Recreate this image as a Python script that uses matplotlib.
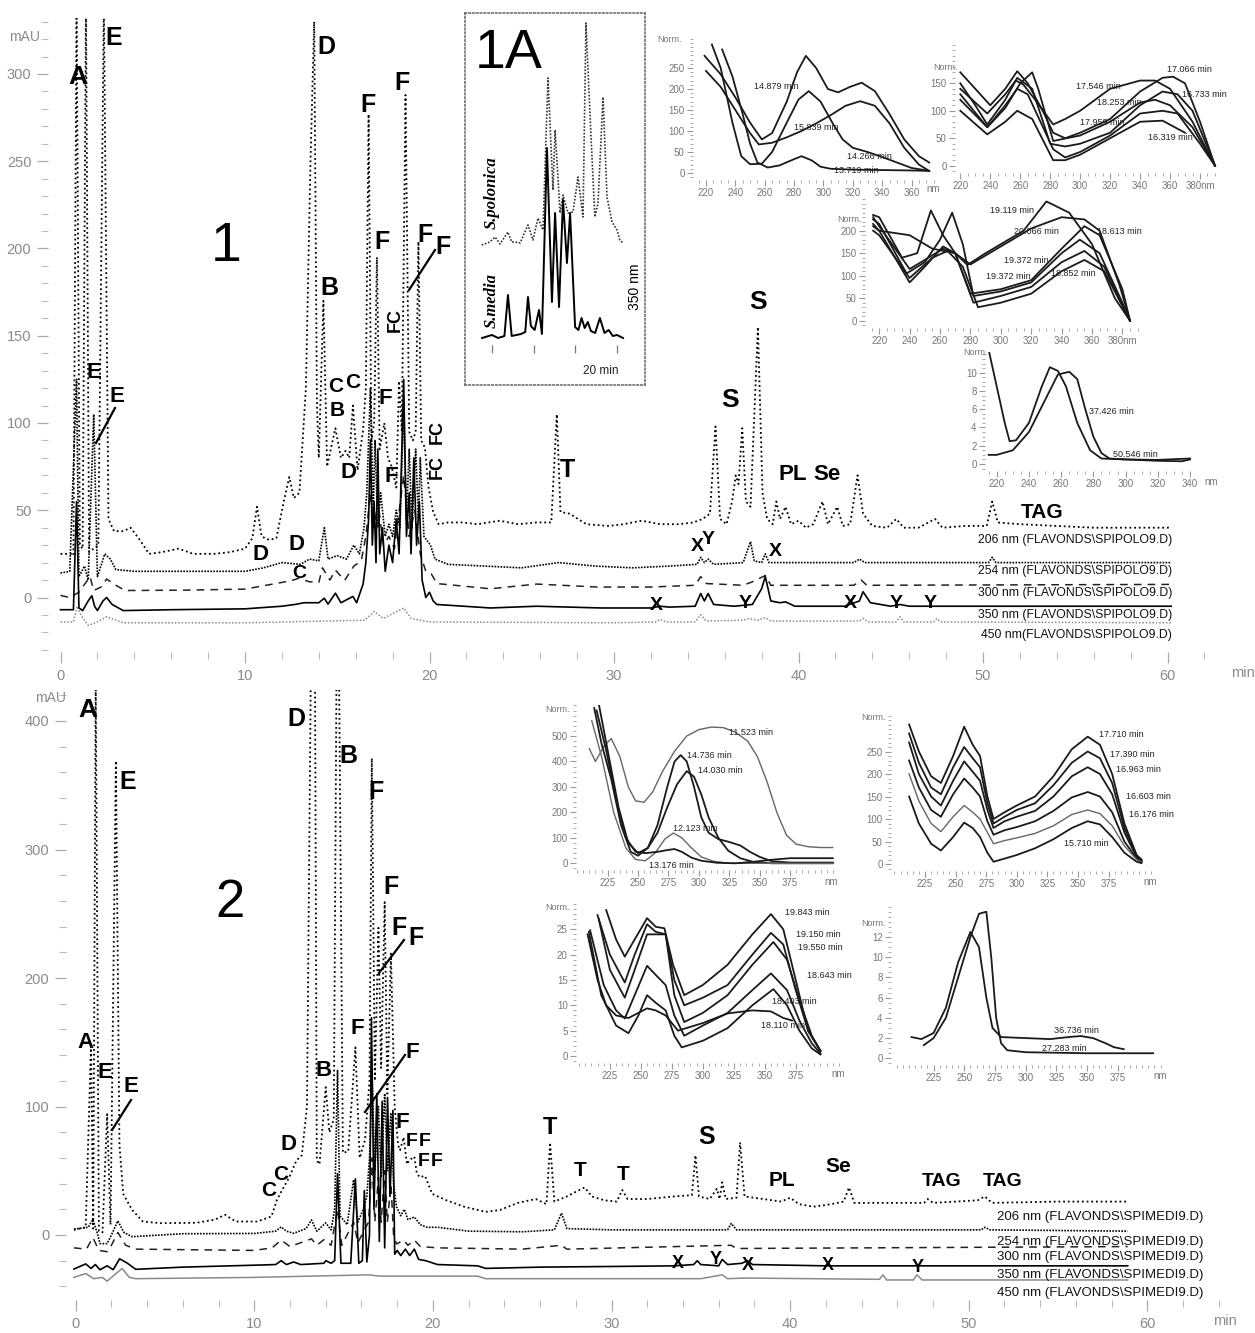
import matplotlib
matplotlib.use('Agg')
import matplotlib.pyplot as plt
from matplotlib.ticker import MultipleLocator
from matplotlib.lines import Line2D
import logging
logging.getLogger('matplotlib.font_manager').setLevel(logging.ERROR)

W, H = 1255, 1333
NARROW = ['Liberation Sans Narrow', 'Liberation Sans', 'DejaVu Sans']
SANS = ['Liberation Sans', 'DejaVu Sans']
SERIF = ['Liberation Serif', 'DejaVu Serif']

# ---------------- chromatogram 1 (S. polonica) : (time min, mAU) ----------------
P1_206 = [(0.0,25),(0.55,25),(0.7,24),(0.87,340),(1.05,30),(1.2,28),(1.38,340),(1.55,26),(1.8,28),(2.05,30),
          (2.35,340),(2.6,45),(2.9,38),(3.4,38),(3.8,40),(4.3,33),(4.8,25),(5.5,26),(6.4,28),(7.2,25),(8.3,25),
          (9.2,26),(10.0,28),(10.4,34),(10.65,52),(10.9,35),(11.3,33),(11.7,34),(12.1,55),(12.4,69),(12.65,57),
          (12.95,60),(13.3,120),(13.55,250),(13.75,330),(13.9,110),(14.0,80),(14.25,170),(14.45,75),(14.65,85),
          (14.9,97),(15.2,80),(15.45,84),(15.65,80),(15.85,110),(16.1,73),(16.4,96),(16.55,120),(16.7,277),
          (16.85,90),(17.0,100),(17.15,195),(17.3,85),(17.55,100),(17.75,80),(17.95,75),(18.2,63),(18.35,124),
          (18.5,95),(18.7,288),(18.9,95),(19.1,90),(19.25,95),(19.4,204),(19.55,90),(19.75,86),(19.95,63),
          (20.2,49),(20.5,42),(21.0,43),(21.8,43),(22.6,42),(23.8,44),(24.8,42),(25.8,43),(26.6,43),(26.9,105),
          (27.1,49),(27.6,48),(28.5,42),(29.7,41),(30.5,42),(31.5,44),(32.5,42),(33.5,42),(34.3,43),(34.8,45),
          (35.2,48),(35.5,98),(35.75,45),(36.1,42),(36.4,55),(36.6,70),(36.75,65),(36.95,97),(37.15,55),
          (37.4,52),(37.8,155),(38.05,60),(38.3,45),(38.6,42),(38.8,55),(39.0,45),(39.3,52),(39.6,42),(40.0,44),
          (40.4,40),(40.8,42),(41.3,55),(41.6,42),(42.1,52),(42.4,41),(42.8,42),(43.2,70),(43.5,48),(44.0,41),
          (44.8,40),(45.3,45),(45.7,40),(46.5,40),(47.4,45),(47.8,40),(49.0,41),(50.2,41),(50.5,55),(50.8,43),
          (52.0,42),(54.0,41),(56.0,40),(58.0,40),(60.2,40)]
P1_254 = [(0,14),(0.5,15),(0.87,125),(1.0,12),(1.3,18),(1.5,10),(1.8,105),(2.0,12),(2.4,25),(2.7,22),(3.0,16),
          (4,15),(8,15),(10,15),(11,17),(12,20),(13,19),(13.5,22),(14.0,21),(14.3,40),(14.5,22),(15,24),
          (15.5,22),(15.9,30),(16.2,25),(16.45,40),(16.6,60),(16.8,120),(16.95,50),(17.05,90),(17.2,40),
          (17.35,60),(17.6,35),(17.8,42),(18.0,35),(18.2,50),(18.4,40),(18.6,110),(18.75,45),(18.9,85),
          (19.05,40),(19.25,85),(19.4,45),(19.5,80),(19.7,35),(20.05,30),(20.3,22),(21,19),(23,18),(25,17),
          (27,20),(29,18),(31,17),(33,18),(34.5,19),(34.7,23),(34.9,20),(35.1,22),(35.4,19),(37.0,20),
          (37.4,32),(37.6,21),(38.0,20),(38.2,25),(38.4,20),(40,20),(43,20),(43.3,22),(43.6,20),(45,20),
          (50.3,20),(50.5,23),(50.7,20),(60.2,20)]
P1_300 = [(0,1.2),(0.5,0),(1.0,3),(1.6,12),(1.8,4),(2.2,6),(2.5,10.6),(3.0,7),(3.5,4),(6.6,4.2),(10,4.8),
          (12.5,9.6),(12.9,11),(13.5,9),(14.0,8.6),(14.2,17),(14.6,10),(14.9,15.7),(15.4,9.8),(15.9,18),
          (16.3,21),(16.55,35),(16.8,60),(17.0,40),(17.2,55),(17.5,30),(17.8,35),(18.1,28),(18.6,70),(18.9,35),
          (19.2,50),(19.5,25),(19.8,15),(20.1,13.5),(20.4,8),(23.3,5),(25.8,7.7),(29.1,6),(32,6),(34.4,7),
          (34.7,12),(35.0,8),(37.0,7),(37.5,9),(38.2,12.6),(38.5,7),(43.0,7),(43.4,10),(43.7,7),(60.2,7.5)]
P1_350 = [(0,-7),(0.7,-7),(0.87,55),(1.0,-6),(1.2,-7.5),(1.5,-2),(1.7,1),(1.85,-5),(2.0,-7.5),(2.3,-2),(2.5,0),
          (2.8,-4),(3.4,-7.5),(6,-7),(10,-6.5),(12.0,-5),(12.7,-4),(13.2,-3),(14.0,-3),(14.3,-0.4),(14.5,-3.8),
          (14.9,2.5),(15.2,-3),(15.85,0.6),(16.05,-3),(16.4,7.7),(16.55,20),(16.7,45),(16.8,90),(16.9,30),
          (17.0,55),(17.1,20),(17.2,85),(17.3,25),(17.45,40),(17.6,15),(17.8,30),(18.0,20),(18.2,45),(18.35,25),
          (18.6,125),(18.75,35),(18.9,60),(19.0,25),(19.15,80),(19.3,30),(19.45,55),(19.6,10),(19.8,0),(20.0,3),
          (20.2,-2),(20.4,-4),(23.3,-6),(25.8,-5),(29.3,-6),(32.0,-6),(32.5,-5),(33,-5.5),(34.4,-5),(34.7,2.3),
          (34.9,-2),(35.1,2.3),(35.4,-4),(36.5,-5),(37.5,-4),(38.0,5),(38.2,12),(38.5,-2),(39.0,-3),(39.3,-2.5),
          (39.8,-5),(42.5,-5),(43.3,-2),(43.5,3.3),(43.9,-3),(45,-5),(45.5,-4),(46,-5),(60.2,-5)]
P1_450 = [(0,-14),(0.7,-14),(0.9,-5),(1.1,-10),(1.5,-16),(2.0,-14),(2.5,-11),(3.4,-14.5),(10,-14.5),(16.5,-13),
          (17,-8),(17.5,-12),(18.6,-6),(19,-12),(20,-14),(30,-14.5),(32.3,-14),(32.5,-12.5),(32.8,-14),
          (34.4,-14),(34.7,-9.8),(35.0,-13.5),(37.0,-13),(37.3,-12),(37.8,-13),(38.2,-11.5),(38.5,-13.5),
          (43.3,-13.5),(43.5,-12),(43.8,-14),(45.3,-14),(45.5,-11),(45.7,-14),(47.3,-14),(47.5,-12),
          (47.7,-14),(60.2,-14.5)]
P1_NAMES = ['206 nm (FLAVONDS\\SPIPOLO9.D)', '254 nm (FLAVONDS\\SPIPOLO9.D)', '300 nm (FLAVONDS\\SPIPOLO9.D)',
            '350 nm (FLAVONDS\\SPIPOLO9.D)', '450 nm(FLAVONDS\\SPIPOLO9.D)']

# ---------------- chromatogram 2 (S. media) ----------------
P2_206 = [(-0.1,4),(0.56,6),(0.86,149),(0.98,5),(1.12,430),(1.3,3),(1.5,2),(1.76,94),(1.95,8),(2.25,369),
          (2.45,70),(2.66,32),(3.16,19.5),(3.76,10.5),(4.76,9.2),(6.76,9.5),(7.8,12),(8.36,15.7),(8.96,10.5),
          (10.16,10.5),(10.96,14.4),(11.26,27),(11.56,35),(11.96,45),(12.36,58),(12.66,62),(12.95,100),
          (13.16,430),(13.4,430),(13.5,58),(13.65,55),(14.0,115),(14.2,80),(14.45,90),(14.6,430),(14.75,430),
          (14.96,64),(15.26,65),(15.66,146),(15.9,60),(16.2,74),(16.45,120),(16.58,371),(16.75,120),
          (16.95,239),(17.1,130),(17.3,259),(17.45,110),(17.65,219),(17.86,100),(18.05,70),(18.16,66),
          (18.36,76),(18.55,55),(18.66,58),(18.96,61),(19.1,48),(19.26,45),(19.56,46),(19.96,32),(20.76,27),
          (21.76,22),(22.96,18),(23.76,19.5),(24.76,25),(25.76,28),(26.36,24),(26.56,72),(26.8,26),(27.5,30),
          (28.2,35),(28.5,37),(28.9,30),(29.6,27),(30.3,26),(30.6,35),(30.9,28),(32,28),(33.5,30),(34.5,31),
          (34.7,62),(34.9,30),(35.5,28),(35.9,36),(36.05,28),(36.2,41),(36.4,28),(37.0,29),(37.2,72),
          (37.45,30),(38.5,28),(39.5,26),(40.0,29),(40.5,24),(41.3,22),(42.3,24),(43.0,26),(43.3,37),
          (43.6,25),(45,25),(47.5,25),(47.7,28),(48,25),(50.5,27),(50.9,30),(51.3,25),(55,26),(58.9,26)]
P2_254 = [(-0.1,4.6),(0.7,6),(0.96,12),(1.2,2),(1.36,-6.7),(1.76,-6.7),(2.0,0),(2.36,11),(2.7,2),(3.16,-1.3),
          (6,1),(10,1.2),(11.2,3),(11.5,6.3),(11.8,3),(12.2,1.3),(12.9,5),(13.2,11.7),(13.5,3),(14.0,9.4),
          (14.3,4),(14.5,20),(14.66,128),(14.8,15),(15.2,8),(15.56,43),(15.8,10),(16.1,20),(16.3,30),
          (16.45,60),(16.6,120),(16.75,50),(16.95,100),(17.1,45),(17.3,110),(17.45,50),(17.65,95),(17.8,40),
          (17.96,22),(18.2,15),(18.4,20),(18.6,12),(18.96,14),(19.3,8),(19.66,6),(20.26,6),(22,3),(25,2.5),
          (26.8,4),(27.2,17),(27.5,5),(30,4),(35,4),(36.5,4),(36.7,9),(37.0,4),(45,4),(50.7,4),(50.9,6),
          (51.2,4),(58.9,3)]
P2_300 = [(-0.1,-10),(0.6,-11),(0.96,-2),(1.3,-12),(1.76,-13),(2.0,-8),(2.36,2),(2.8,-8),(3.36,-11),(10,-12),
          (11.0,-10),(11.5,-4),(12.0,-9),(12.2,-8),(13.2,-3),(13.5,-8),(13.9,-3.6),(14.3,-8),(14.66,20),
          (14.9,-8),(15.56,10),(15.8,-6),(16.2,5),(16.4,10),(16.6,60),(16.75,10),(16.95,45),(17.1,10),
          (17.3,50),(17.45,10),(17.65,40),(17.8,0),(17.96,-7),(18.36,-4),(18.6,-8),(18.96,-4),(19.3,-9),
          (20.26,-10),(25,-11),(27.2,-8),(27.5,-11),(36.7,-8),(37,-10.5),(58.9,-9)]
P2_350 = [(-0.1,-26.5),(0.56,-22.5),(0.86,-26),(1.1,-23),(1.36,-27),(1.76,-24),(2.1,-27),(2.46,-18.5),
          (2.9,-22),(3.36,-26.7),(6,-25),(10,-23.5),(11.2,-23),(11.5,-20),(11.8,-23),(12.2,-21),(12.6,-23),
          (13.9,-22),(14.0,-20),(14.3,-22),(14.5,-20),(14.66,47.7),(14.85,-22),(15.4,-22),(15.66,43.8),
          (15.85,-22),(16.05,-20),(16.16,34.6),(16.3,-21),(16.45,0),(16.56,169),(16.7,20),(16.86,110),
          (17.0,-5),(17.16,104),(17.3,-10),(17.46,107),(17.6,30),(17.76,97),(17.86,-15),(18.0,-12),
          (18.2,-16),(18.46,-11),(18.7,-16),(18.96,-11),(19.2,-19),(19.6,-20),(20.26,-23),(22.5,-24),
          (22.96,-26),(26,-25),(30,-24.5),(33.5,-24),(34.6,-23),(34.8,-20),(35.0,-23),(36.0,-24),(36.2,-19),
          (36.5,-23),(37.3,-22),(37.6,-20),(37.9,-23),(42,-24),(58.9,-24)]
P2_450 = [(-0.1,-33),(0.56,-30),(1.0,-34),(1.5,-33),(1.76,-36),(2.0,-33),(2.6,-26),(3.0,-33),(3.36,-34),
          (10,-33),(16.4,-31),(17,-32),(22.5,-32),(22.96,-34),(30,-34),(33.5,-34),(35,-34),(36.2,-31),
          (36.5,-34),(37.5,-33.5),(45.0,-34.5),(45.2,-31),(45.4,-35),(46.9,-35),(47.1,-31),(47.4,-35),
          (58.9,-35)]
P2_NAMES = ['206 nm (FLAVONDS\\SPIMEDI9.D)', '254 nm (FLAVONDS\\SPIMEDI9.D)', '300 nm (FLAVONDS\\SPIMEDI9.D)',
            '350 nm (FLAVONDS\\SPIMEDI9.D)', '450 nm (FLAVONDS\\SPIMEDI9.D)']

# ---------------- inset 1A (350 nm, 12-21 min) ----------------
IN_MEDIA = [(13.53,0),(14.0,3),(14.3,0),(14.6,2),(14.77,43),(14.95,2),(15.4,4),(15.6,6),(15.73,41),(15.87,12),
            (16.05,8),(16.26,28),(16.4,4),(16.64,190),(16.88,36),(17.03,125),(17.22,31),(17.41,138),(17.6,75),
            (17.75,125),(17.99,11),(18.15,8),(18.3,20),(18.45,10),(18.6,16),(18.75,7),(18.95,5),(19.18,20),
            (19.4,5),(19.6,8),(19.8,2),(20.0,3),(20.29,0)]
IN_POLONICA = [(13.51,93),(13.9,96),(14.15,101),(14.39,94),(14.77,106),(14.95,96),(15.11,96),(15.35,95),
               (15.73,113),(15.97,98),(16.21,120),(16.45,108),(16.69,260),(16.93,148),(17.03,208),(17.27,125),
               (17.41,143),(17.65,125),(17.89,126),(18.13,161),(18.37,121),(18.51,315),(18.75,203),(18.94,121),
               (19.09,135),(19.33,241),(19.52,141),(19.76,116),(20.0,108),(20.14,98),(20.29,95)]
IN_TICKS = [14, 16, 18, 20]

# ---------------- UV spectra (nm, Norm.) ----------------
SA_14879 = [(219,279),(230,235),(240,180),(250,120),(258,80),(265,95),(275,170),(282,240),(288,279),(295,250),
            (303,200),(310,192),(318,205),(326,215),(335,195),(345,140),(355,80),(365,40),(372,25)]
SA_15839 = [(220,243),(230,205),(240,150),(250,95),(256,68),(265,72),(275,85),(285,100),(295,118),(305,138),
            (315,160),(325,171),(335,160),(345,118),(355,60),(365,20),(372,5)]
SA_14266 = [(224,306),(230,250),(238,120),(244,40),(250,21),(258,22),(265,50),(275,120),(283,175),(290,195),
            (298,170),(306,120),(313,80),(320,60),(330,50),(340,38),(350,25),(360,12),(372,5)]
SA_13719 = [(231,294),(238,230),(245,140),(250,70),(255,25),(262,13),(270,18),(278,30),(285,40),(292,30),
            (298,15),(305,10),(320,8),(340,7),(360,6),(372,5)]
SA_LABELS = [('14.879 min',253,207),('15.839 min',280,108),('14.266 min',316,40),('13.719 min',307,5)]

SB_17066 = [(220,170),(230,140),(240,110),(250,140),(258,172),(265,150),(275,100),(282,60),(290,50),(300,60),
            (320,85),(340,135),(355,160),(362,162),(370,150),(380,80),(390,0)]
SB_16733 = [(220,150),(230,110),(238,75),(250,120),(258,160),(268,140),(280,40),(290,35),(300,40),(320,60),
            (340,110),(355,135),(365,130),(375,100),(390,0)]
SB_17546 = [(220,140),(238,95),(250,130),(257,155),(262,148),(270,120),(282,75),(290,85),(300,100),(320,140),
            (340,155),(350,155),(360,140),(375,80),(390,0)]
SB_18253 = [(220,130),(238,70),(250,105),(260,150),(268,170),(272,140),(282,45),(300,55),(320,80),(340,115),
            (350,120),(360,110),(375,70),(390,0)]
SB_17959 = [(220,120),(238,70),(250,110),(258,140),(265,130),(282,30),(290,15),(300,25),(320,55),(340,95),
            (355,100),(365,95),(380,40),(390,0)]
SB_16319 = [(220,100),(238,57),(250,80),(258,100),(268,85),(282,10),(290,10),(300,20),(320,50),(340,80),
            (355,82),(370,60)]
SB_LABELS = [('17.066 min',358,175),('16.733 min',368,130),('17.546 min',297,145),('18.253 min',311,115),
             ('17.959 min',300,79),('16.319 min',345,52)]

SC_19119 = [(216,230),(220,210),(240,115),(250,135),(262,160),(270,150),(278,124),(290,150),(300,170),
            (315,200),(330,265),(345,240),(360,170),(375,50),(385,0)]
SC_20066 = [(216,215),(220,200),(240,190),(255,160),(270,150),(280,125),(300,165),(320,205),(340,230),
            (355,225),(365,200),(378,80),(385,0)]
SC_18613 = [(216,235),(220,230),(235,140),(245,150),(254,245),(262,190),(270,150),(280,60),(300,70),(320,90),
            (340,160),(355,210),(365,190),(380,70),(385,0)]
SC_19372a = [(216,225),(220,215),(238,105),(250,130),(260,180),(268,240),(275,170),(282,55),(300,65),(320,85),
             (340,150),(352,180),(365,150),(380,40),(385,0)]
SC_19372b = [(216,210),(220,200),(240,85),(250,120),(262,165),(270,150),(282,40),(300,55),(320,75),(340,130),
             (355,155),(368,120),(385,0)]
SC_18852 = [(216,200),(220,190),(240,95),(255,140),(265,155),(275,120),(285,30),(300,40),(320,60),(340,110),
            (355,135),(368,110),(385,0)]
SC_LABELS = [('19.119 min',293,244),('20.066 min',309,198),('18.613 min',363,198),('19.372 min',302,133),
             ('19.372 min',290,98),('18.852 min',333,104)]

SD_37426 = [(215,12.5),(220,8.5),(225,4.5),(228,2.5),(232,2.6),(240,4.5),(248,8.5),(253,10.6),(258,10.2),
            (263,8.5),(270,4.5),(278,1.5),(285,0.6),(300,0.5),(320,0.45),(340,0.6)]
SD_50546 = [(215,1.0),(220,1.0),(230,1.5),(240,3.5),(250,7),(258,9.8),(265,10.1),(270,9.3),(275,6),(280,3),
            (285,1.2),(290,0.6),(300,0.5),(320,0.35),(335,0.3),(340,0.5)]
SD_LABELS = [('37.426 min',277,5.7),('50.546 min',292,1.05)]

SE_11523 = [(210,450),(215,400),(222,460),(228,490),(235,420),(242,300),(248,245),(255,240),(262,280),(270,360),
            (280,440),(290,500),(300,525),(310,535),(320,533),(330,515),(340,480),(348,420),(356,320),(364,200),
            (372,110),(380,75),(390,65),(400,62),(410,62)]
SE_14736 = [(214,610),(220,470),(228,330),(236,150),(244,45),(250,30),(258,60),(266,150),(274,300),(280,400),
            (285,425),(290,400),(296,300),(302,180),(308,120),(316,95),(324,85),(334,70),(342,45),(350,25),
            (360,8),(375,3),(410,3)]
SE_14030 = [(218,620),(226,420),(234,220),(242,80),(250,40),(258,60),(266,120),(274,220),(282,310),(290,362),
            (296,340),(302,270),(308,180),(316,100),(324,50),(334,20),(345,5),(360,0),(410,0)]
SE_12123 = [(212,560),(220,420),(230,200),(240,60),(248,15),(256,10),(264,40),(272,95),(279,119),(286,100),
            (294,60),(302,25),(312,8),(325,0),(410,0)]
SE_13176 = [(216,600),(224,440),(232,250),(240,100),(248,45),(256,40),(266,45),(274,52),(280,56),(286,45),
            (294,22),(302,10),(315,2),(330,0),(345,6),(360,14),(375,20),(410,20)]
SE_LABELS = [('11.523 min',325,514),('14.736 min',290,423),('14.030 min',299,366),('12.123 min',279,135),
             ('13.176 min',259,-7)]

SF_17710 = [(212,310),(220,250),(230,195),(238,180),(248,240),(257,305),(264,265),(270,240),(276,150),(281,100),
            (290,115),(300,130),(315,150),(330,195),(345,255),(358,283),(368,265),(378,200),(388,90),(398,20),
            (402,10)]
SF_17390 = [(212,290),(220,225),(230,170),(238,155),(248,215),(257,260),(264,235),(270,215),(276,135),(281,90),
            (290,105),(300,120),(315,135),(330,175),(345,225),(358,250),(368,235),(378,180),(388,80),(398,18),
            (402,8)]
SF_16963 = [(212,270),(220,200),(230,150),(238,130),(248,185),(257,228),(264,205),(270,185),(276,120),(281,80),
            (290,95),(300,105),(315,118),(330,150),(345,195),(358,215),(368,200),(378,155),(388,70),(398,15),
            (402,6)]
SF_16603 = [(212,230),(220,170),(230,120),(238,105),(248,155),(257,190),(264,170),(270,150),(276,95),(281,65),
            (290,75),(300,82),(315,95),(330,118),(345,148),(358,160),(368,150),(378,115),(388,50),(398,12),
            (402,5)]
SF_16176 = [(212,200),(220,140),(230,90),(238,72),(248,105),(257,130),(264,115),(270,100),(276,70),(281,45),
            (290,52),(300,58),(315,68),(330,85),(345,110),(358,120),(368,112),(378,85),(388,40),(398,10),(402,4)]
SF_15710 = [(212,150),(220,90),(230,45),(238,30),(248,60),(257,92),(264,80),(270,60),(276,25),(281,5),(290,12),
            (300,20),(315,35),(330,55),(345,80),(358,95),(368,88),(378,60),(388,25),(398,5),(402,2)]
SF_LABELS = [('17.710 min',367,288),('17.390 min',376,243),('16.963 min',381,210),('16.603 min',389,149),
             ('16.176 min',392,111),('15.710 min',339,46)]

SG_19843 = [(222,28.8),(230,23),(237,19.6),(245,23),(255,27.2),(262,25.5),(269,25.2),(276,18),(285,12),
            (300,14),(320,18),(340,24),(355,28),(365,25),(375,15),(385,5),(395,1)]
SG_19150 = [(215,27.8),(225,20),(237,14.5),(245,20),(255,26),(262,24.5),(270,24),(277,15),(285,10),(300,11.5),
            (320,14),(340,20),(355,24.3),(365,22),(375,13),(385,5),(395,1)]
SG_19550 = [(216,27),(225,17),(237,11.5),(245,17),(255,24),(262,24),(270,24),(277,12),(285,6.7),(300,8.5),
            (320,12),(340,18),(357,22.5),(368,19),(378,11),(388,4),(395,1)]
SG_18643 = [(209,24.8),(220,14),(230,9),(237,7.4),(245,12),(255,17.8),(262,16),(270,14),(277,8),(285,4),
            (300,6),(320,8.5),(340,13),(355,16.3),(368,13),(378,7),(388,2.5),(395,0.5)]
SG_18403 = [(208,24.5),(218,12),(230,6),(240,4.5),(248,8),(255,12),(262,10.5),(270,9),(277,4),(283,1.7),
            (300,3),(320,5.5),(340,10),(357,13.2),(368,10),(378,5),(388,1.5),(395,0.3)]
SG_18110 = [(207,24),(215,15),(222,10),(230,8),(240,7.5),(248,8.5),(255,9.4),(262,9),(270,8),(280,5),
            (300,6.5),(320,8.4),(340,9),(355,8.8),(365,7.5),(372,7)]
SG_LABELS = [('19.843 min',366,28.3),('19.150 min',375,23.9),('19.550 min',377,21.4),('18.643 min',384,15.9),
             ('18.403 min',356,10.7),('18.110 min',347,6.1)]

SH_36736 = [(207,2.1),(215,1.9),(225,2.5),(235,5),(245,9.5),(255,12.5),(262,11),(268,6),(273,3),(280,2.1),
            (300,2),(320,1.9),(335,2.1),(345,2.2),(355,2.0),(365,1.5),(372,1.1),(380,0.9)]
SH_27283 = [(217,1.3),(225,2),(235,4),(245,8),(255,12),(262,14.3),(268,14.5),(272,10),(276,4),(280,1.5),
            (285,0.8),(300,0.6),(350,0.5),(404,0.5)]
SH_LABELS = [('36.736 min',323,2.74),('27.283 min',313.5,1.0)]

# ---------------- figure ----------------
fig = plt.figure(figsize=(W / 100, H / 100), dpi=100)
fig.patch.set_facecolor('white')


def px_axes(l, t, r, b):
    return fig.add_axes([l / W, 1 - b / H, (r - l) / W, (b - t) / H])


def ftext(x, y, s, **kw):
    kw.setdefault('ha', 'center')
    kw.setdefault('va', 'center')
    return fig.text(x / W, 1 - y / H, s, **kw)


def fline(p1, p2):
    fig.add_artist(Line2D([p1[0] / W, p2[0] / W], [1 - p1[1] / H, 1 - p2[1] / H],
                          transform=fig.transFigure, color='black', lw=1.6))


def unzip(pairs):
    return [p[0] for p in pairs], [p[1] for p in pairs]


STYLES = [dict(color='black', lw=1.3, ls=(0, (1, 1.6))),
          dict(color='black', lw=1.2, ls=(0, (1, 0.8))),
          dict(color='#222', lw=1.1, ls=(0, (5, 4))),
          dict(color='black', lw=1.2, ls='-'),
          dict(color='#8a8a8a', lw=1.1, ls=(0, (1, 1.2)))]


def style_main(ax, xlim, ylim, ymin, yticks):
    for sp in ax.spines.values():
        sp.set_visible(False)
    ax.set_facecolor('none')
    ax.set_xlim(*xlim)
    ax.set_ylim(*ylim)
    ax.set_xticks(list(range(0, 61, 10)))
    ax.xaxis.set_minor_locator(MultipleLocator(2))
    ax.set_yticks(yticks)
    ax.yaxis.set_minor_locator(MultipleLocator(ymin))
    ax.tick_params(which='major', length=8, width=0.9, color='#aaaaaa', labelcolor='#8a8a8a',
                   labelsize=10.5, pad=4)
    ax.tick_params(which='minor', length=5, width=0.8, color='#bbbbbb')
    for lab in ax.get_xticklabels() + ax.get_yticklabels():
        lab.set_family(SANS)


# --- panel 1
ax1 = px_axes(48, 18, 1230, 652)
style_main(ax1, ((48 - 60.5) / 18.45, (1230 - 60.5) / 18.45),
           ((597.5 - 652) / 1.745, (597.5 - 18) / 1.745), 10, list(range(0, 301, 50)))
for data, st in zip([P1_450, P1_300, P1_254, P1_206, P1_350], [STYLES[4], STYLES[2], STYLES[1], STYLES[0], STYLES[3]]):
    x, y = unzip(data)
    ax1.plot(x, y, **st)

# --- panel 2
ax2 = px_axes(66, 690, 1230, 1300)
style_main(ax2, ((66 - 75.7) / 17.86, (1230 - 75.7) / 17.86),
           ((1235 - 1300) / 1.285, (1235 - 690) / 1.285), 20, list(range(0, 401, 100)))
st450b = dict(color='#8a8a8a', lw=1.1, ls='-')
for data, st in zip([P2_450, P2_300, P2_254, P2_206, P2_350], [st450b, STYLES[2], STYLES[1], STYLES[0], STYLES[3]]):
    x, y = unzip(data)
    ax2.plot(x, y, **st)

ftext(25, 37, 'mAU', color='#8a8a8a', fontsize=10, family=SANS)
ftext(51, 698, 'mAU', color='#8a8a8a', fontsize=10, family=SANS)
ftext(1243, 673, 'min', color='#8a8a8a', fontsize=10.5, family=SANS)
ftext(1225, 1321, 'min', color='#8a8a8a', fontsize=10.5, family=SANS)

for name, yy in zip(P1_NAMES, [540, 571, 593, 615, 635]):
    ftext(1172, yy, name, ha='right', fontsize=8.8, family=NARROW, color='#111')
for name, yy in zip(P2_NAMES, [1217, 1242, 1257, 1275, 1293]):
    ftext(1203, yy, name, ha='right', fontsize=9.5, family=NARROW, color='#111')

# --- peak letters
TOP_LABELS = [('A', 78, 77, 19), ('E', 114, 38, 18), ('D', 326, 47, 18), ('F', 368, 105, 18), ('F', 402, 83, 18),
              ('F', 382, 242, 18), ('F', 425, 235, 18), ('F', 443, 247, 18), ('B', 329, 288, 18),
              ('E', 94, 372, 16), ('E', 117, 397, 16), ('C', 336, 386, 15), ('C', 353, 383, 15),
              ('B', 337, 410, 15), ('D', 348, 472, 16), ('F', 385, 398, 16), ('F', 391, 477, 16),
              ('T', 567, 470, 18), ('S', 758, 302, 19), ('S', 730, 400, 19), ('PL', 793, 475, 16),
              ('Se', 827, 475, 16), ('TAG', 1042, 513, 15), ('D', 260, 555, 16), ('D', 297, 545, 16),
              ('C', 299, 573, 14), ('X', 697, 547, 14), ('Y', 708, 540, 14), ('X', 775, 552, 14),
              ('X', 656, 606, 14), ('Y', 745, 604, 14), ('X', 850, 603, 14), ('Y', 896, 604, 14),
              ('Y', 930, 604, 14)]
TOP_ROT = [('FC', 395, 320, 13), ('FC', 437, 432, 13), ('FC', 437, 467, 13)]
BOT_LABELS = [('A', 88, 710, 19), ('D', 296, 719, 18), ('B', 348, 756, 18), ('E', 128, 782, 18),
              ('F', 376, 792, 18), ('F', 391, 887, 18), ('F', 399, 928, 18), ('F', 416, 938, 18),
              ('A', 86, 1042, 16), ('E', 105, 1073, 16), ('E', 131, 1087, 16), ('B', 324, 1070, 16),
              ('D', 289, 1145, 16), ('C', 281, 1174, 15), ('C', 269, 1191, 15), ('F', 357, 1028, 16),
              ('F', 412, 1053, 16), ('F', 402, 1122, 16), ('F', 412, 1142, 14), ('F', 425, 1142, 14),
              ('F', 424, 1162, 14), ('F', 437, 1162, 14), ('T', 550, 1127, 17), ('T', 580, 1170, 15),
              ('T', 623, 1175, 15), ('S', 707, 1137, 18), ('PL', 782, 1180, 15), ('Se', 838, 1167, 15),
              ('TAG', 942, 1182, 14), ('TAG', 1003, 1182, 14), ('X', 678, 1264, 13), ('Y', 716, 1260, 13),
              ('X', 748, 1266, 13), ('X', 828, 1266, 13), ('Y', 918, 1267, 13)]
for s, x, y, fs in TOP_LABELS + BOT_LABELS:
    ftext(x, y, s, fontsize=fs, fontweight='bold', family=NARROW, color='black')
for s, x, y, fs in TOP_ROT:
    ftext(x, y, s, fontsize=fs, fontweight='bold', family=NARROW, color='black', rotation=90)
ftext(226, 247, '1', fontsize=40, family=SANS, color='black')
ftext(230, 903, '2', fontsize=38, family=SANS, color='black')

for p1, p2 in [((115, 408), (96, 443)), ((435, 250), (409, 290)), ((131, 1100), (112, 1130)),
               ((404, 940), (379, 973)), ((405, 1055), (365, 1112))]:
    fline(p1, p2)

# --- inset 1A
axi = px_axes(465, 13, 645, 385)
axi.set_xlim(20 + (465 - 617) / 20.85, 20 + (645 - 617) / 20.85)
axi.set_ylim(338 - 385, 338 - 13)
axi.set_facecolor('white')
axi.set_xticks([])
axi.set_yticks([])
for sp in axi.spines.values():
    sp.set_linestyle((0, (1, 1.5)))
    sp.set_color('#666')
    sp.set_linewidth(1.1)
x, y = unzip(IN_POLONICA)
axi.plot(x, y, color='#333', lw=1.2, ls=(0, (1, 1)))
x, y = unzip(IN_MEDIA)
axi.plot(x, y, color='black', lw=1.4)
axi.vlines(IN_TICKS, -15, -7, color='#777', lw=0.9)
axi.text(19.2, -33, '20 min', ha='center', va='center', fontsize=8.5, family=SANS, color='#222')
ftext(509, 54, '1A', fontsize=40, family=SANS, color='black')
ftext(492, 193, 'S.polonica', rotation=90, fontsize=12, fontweight='bold', fontstyle='italic', family=SERIF)
ftext(492, 301, 'S.media', rotation=90, fontsize=12, fontweight='bold', fontstyle='italic', family=SERIF)
ftext(635, 287, '350 nm', rotation=90, fontsize=10, family=SANS)


# --- spectra insets
def spec_axes(box, xanc, yanc, xticks, xlabels, xminor, yticks, yminor, curves, labels, norm_xy,
              nm_xy=None, gray=()):
    l, t, r, b = box
    (n0, p0), (n1, p1) = xanc
    sx = (p1 - p0) / (n1 - n0)
    (v0, q0), (v1, q1) = yanc
    sy = (q1 - q0) / (v1 - v0)
    ax = px_axes(l, t, r, b)
    ax.set_facecolor('none')
    ax.set_xlim(n0 + (l - p0) / sx, n0 + (r - p0) / sx)
    ax.set_ylim(v0 + (b - q0) / sy, v0 + (t - q0) / sy)
    for sp in ax.spines.values():
        sp.set_visible(False)
    ax.set_xticks(xticks)
    ax.set_xticklabels(xlabels)
    ax.xaxis.set_minor_locator(MultipleLocator(xminor))
    ax.set_yticks(yticks)
    ax.yaxis.set_minor_locator(MultipleLocator(yminor))
    ax.tick_params(which='major', length=4, width=0.8, color='#999', labelcolor='#777', labelsize=7, pad=2)
    ax.tick_params(which='minor', length=2, width=0.7, color='#aaa')
    for lab in ax.get_xticklabels() + ax.get_yticklabels():
        lab.set_family(SANS)
    for i, c in enumerate(curves):
        x, y = unzip(c)
        if i in gray:
            ax.plot(x, y, color='#666', lw=1.0)
        else:
            ax.plot(x, y, color='#1a1a1a', lw=1.3)
    for s, x, y in labels:
        ax.text(x, y, s, fontsize=6.5, family=SANS, color='#222', ha='left', va='center')
    ftext(norm_xy[0], norm_xy[1], 'Norm.', fontsize=6.5, family=SANS, color='#777')
    if nm_xy:
        ftext(nm_xy[0], nm_xy[1], 'nm', fontsize=7, family=SANS, color='#777')
    return ax


spec_axes((693, 35, 938, 180), ((220, 706), (360, 911.6)), ((0, 173), (250, 68)),
          list(range(220, 361, 20)), [str(v) for v in range(220, 361, 20)], 5,
          list(range(0, 251, 50)), 10, [SA_14879, SA_15839, SA_14266, SA_13719], SA_LABELS, (670, 39),
          (933, 189))
spec_axes((955, 40, 1220, 173), ((220, 960.3), (380, 1200)), ((0, 165.7), (150, 83.3)),
          list(range(220, 381, 20)), [str(v) for v in range(220, 361, 20)] + ['380nm'], 5,
          list(range(0, 151, 50)), 10, [SB_17066, SB_16733, SB_17546, SB_18253, SB_17959, SB_16319], SB_LABELS,
          (946, 67))
spec_axes((865, 198, 1142, 328), ((220, 879.2), (380, 1122.4)), ((0, 320.7), (200, 230.7)),
          list(range(220, 381, 20)), [str(v) for v in range(220, 361, 20)] + ['380nm'], 5,
          list(range(0, 201, 50)), 10, [SC_19119, SC_20066, SC_18613, SC_19372a, SC_19372b, SC_18852], SC_LABELS,
          (850, 220))
spec_axes((985, 352, 1197, 471), ((220, 996.7), (340, 1190)), ((0, 464), (10, 372.7)),
          list(range(220, 341, 20)), [str(v) for v in range(220, 341, 20)], 5,
          list(range(0, 11, 2)), 0.5, [SD_37426, SD_50546], SD_LABELS, (975, 353), (1211, 482))
spec_axes((576, 705, 835, 870), ((225, 607.6), (375, 790.2)), ((0, 863.3), (500, 736)),
          list(range(225, 376, 25)), [str(v) for v in range(225, 376, 25)], 5,
          list(range(0, 501, 100)), 20, [SE_11523, SE_14736, SE_14030, SE_12123, SE_13176], SE_LABELS,
          (558, 709), (831, 882), gray=(0, 3))
spec_axes((891, 714, 1155, 871), ((225, 925), (375, 1108.5)), ((0, 864), (250, 751.5)),
          list(range(225, 376, 25)), [str(v) for v in range(225, 376, 25)], 5,
          list(range(0, 251, 50)), 10, [SF_17710, SF_17390, SF_16963, SF_16603, SF_16176, SF_15710], SF_LABELS,
          (873, 718), (1150, 882), gray=(4,))
spec_axes((576, 903, 842, 1063), ((225, 609.9), (375, 795.7)), ((0, 1056), (25, 929.3)),
          list(range(225, 376, 25)), [str(v) for v in range(225, 376, 25)], 5,
          list(range(0, 26, 5)), 1, [SG_19843, SG_19150, SG_19550, SG_18643, SG_18403, SG_18110], SG_LABELS,
          (558, 907), (838, 1074))
spec_axes((891, 905, 1165, 1065), ((225, 933.6), (375, 1117.6)), ((0, 1058.3), (12, 937)),
          list(range(225, 376, 25)), [str(v) for v in range(225, 376, 25)], 5,
          list(range(0, 13, 2)), 0.5, [SH_36736, SH_27283], SH_LABELS, (873, 924), (1160, 1076))

fig.savefig('out.png', dpi=100, facecolor='white')
